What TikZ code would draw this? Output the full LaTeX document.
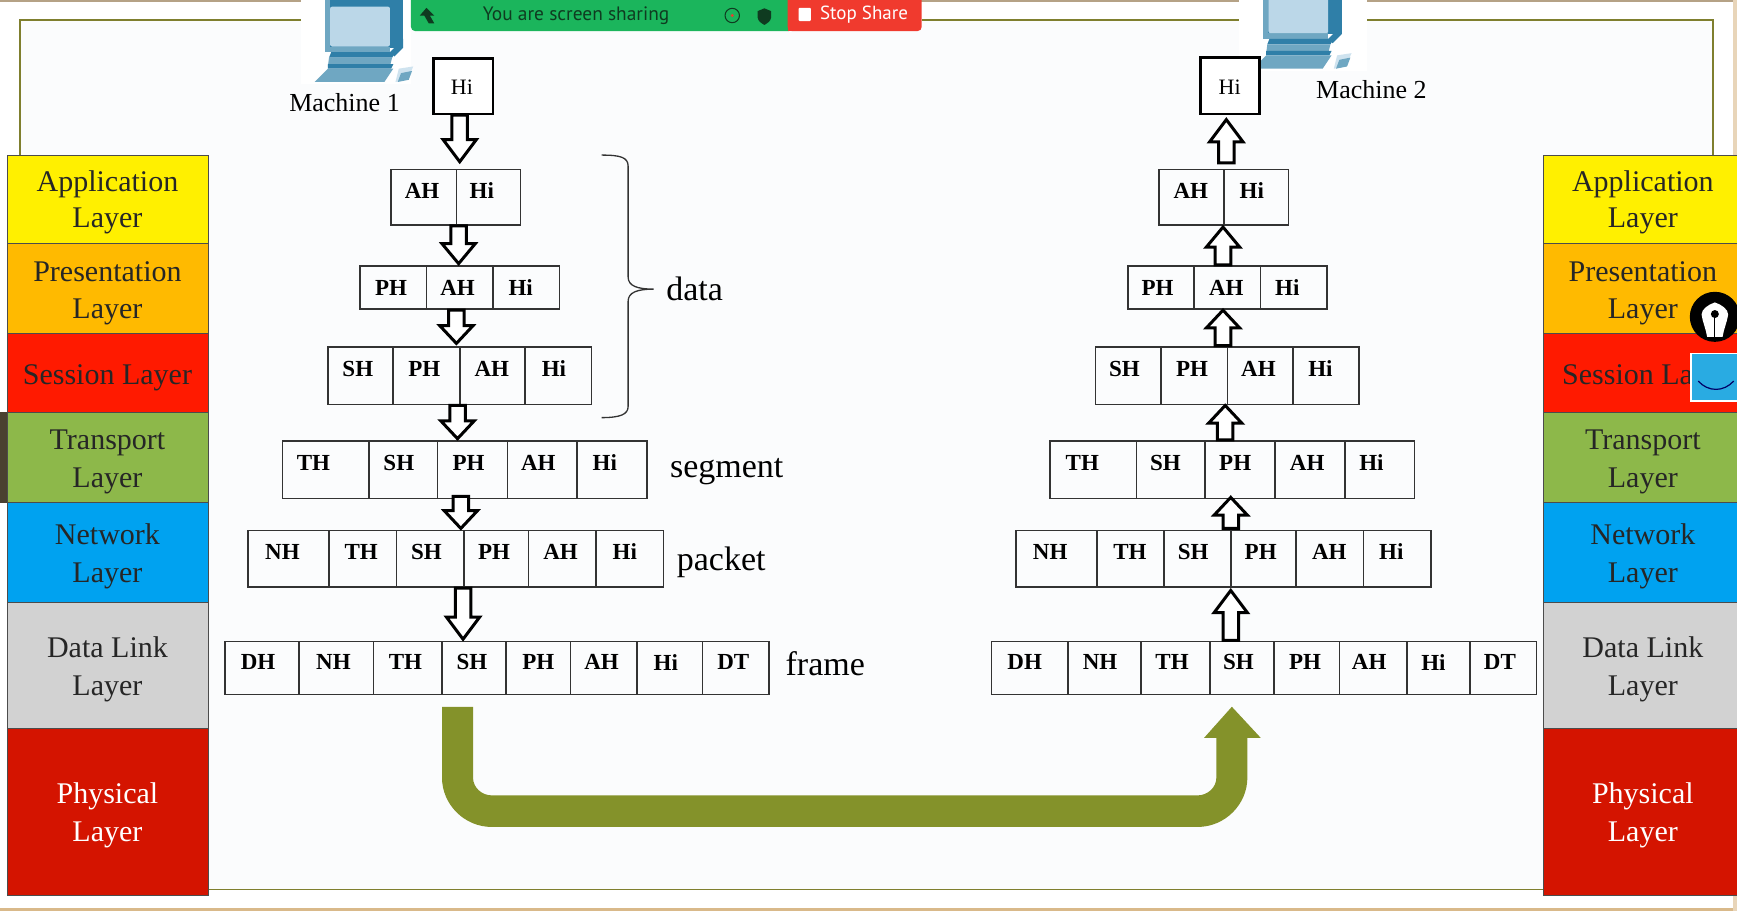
\documentclass[tikz,border=0pt]{standalone}
\usepackage{fontspec}
\setmainfont{Liberation Serif}
\newfontfamily\uifont{PT Sans}
\usetikzlibrary{calc}
\definecolor{pagebg}{HTML}{FBFCFD}
\definecolor{framecol}{HTML}{7F7F2E}
\definecolor{edgetan}{HTML}{D9B98A}
\definecolor{lyellow}{HTML}{FFF000}
\definecolor{lorange}{HTML}{FFBA00}
\definecolor{lred}{HTML}{FF1A00}
\definecolor{lgreen}{HTML}{8DB84A}
\definecolor{lblue}{HTML}{00A2F0}
\definecolor{lgray}{HTML}{D2D2D2}
\definecolor{ldred}{HTML}{D41400}
\definecolor{olive}{HTML}{84922A}
\definecolor{cellcol}{HTML}{333333}
\definecolor{pcdark}{HTML}{2F7FA8}
\definecolor{pcmid}{HTML}{6FA7C2}
\definecolor{pclight}{HTML}{BBD7E8}
\definecolor{zgreen}{HTML}{1BB55C}
\definecolor{zred}{HTML}{F03A2E}
\definecolor{zdark}{HTML}{0F3B20}
\definecolor{zblue}{HTML}{29ABE2}
\definecolor{strip}{HTML}{4A4030}
\tikzset{
  x=1.1078pt,y=-1.1078pt,
  framestyle/.style={draw=framecol,line width=1.8pt},
  layerbox/.style={draw=black!70,line width=1.1pt},
  layertext/.style={font=\fontsize{30}{30}\selectfont,text=black!85,inner sep=0pt,text height=21pt,text depth=6pt},
  celltext/.style={font=\fontsize{23}{23}\selectfont\bfseries,text=black,inner sep=0pt,yshift=-1pt},
  cellline/.style={draw=cellcol,line width=1.6pt},
  hibox/.style={draw=black,line width=2.8pt,fill=white},
  hitext/.style={font=\fontsize{22}{22}\selectfont,inner sep=0pt,yshift=-1pt},
  machinetext/.style={font=\fontsize{26}{26}\selectfont,inner sep=0pt},
  grouptext/.style={font=\fontsize{34}{34}\selectfont,inner sep=0pt,text height=24pt,text depth=7pt},
  hollow/.style={draw=black,line width=3pt,fill=white,miter limit=8},
}
\newcommand\cellrow[5]{%
  \foreach \a/\b/\c/\t in {#5}{%
    \draw[cellline] (\a,#2) rectangle (\b,#3);
    \node[celltext,name=#1-\t] at (\c,#4) {\t};
  }}
% name, x, from-y, to-y, direction sign (1 down, -1 up), head height
\newcommand\hollowarrow[6]{%
  \coordinate (#1-a) at (#2,#3);
  \coordinate (#1-b) at (#2,#4);
  \draw[hollow] ($(#1-a)+(-7,0)$) -- ($(#1-b)+(-7,{-#5*#6})$) -- ($(#1-b)+(-15,{-#5*#6})$)
     -- (#1-b) -- ($(#1-b)+(15,{-#5*#6})$) -- ($(#1-b)+(7,{-#5*#6})$) -- ($(#1-a)+(7,0)$) -- cycle;
}
\newcommand\computer[2]{%
  \begin{scope}[shift={(#1,#2)}]
    \fill[pcdark] (293,-2) rectangle (364,43);
    \fill[pcmid] (293,-2) rectangle (298,46);
    \fill[pcmid] (293,42) rectangle (352,47);
    \fill[pclight,rounded corners=2pt] (298,6) rectangle (352,42);
    \fill[pcdark] (352,47) -- (364,35) -- (364,43) -- (356,51) -- cycle;
    \fill[pcdark] (299,47) -- (357,47) -- (354,52) -- (297,52) -- cycle;
    \fill[pcmid] (297,52) -- (354,52) -- (352,60) -- (296,60) -- cycle;
    \fill[pcdark] (296,58) -- (355,58) -- (353,62) -- (296,62) -- cycle;
    \fill[pcmid] (296,62) -- (355,62) -- (347,74) -- (284,74) -- cycle;
    \fill[pclight!70!white] (360,62) -- (373,60) -- (368,72) -- (357,74) -- cycle;
    \fill[pcmid] (362,66) -- (372,64) -- (369,72) -- (359,74) -- cycle;
  \end{scope}}
\begin{document}
\begin{tikzpicture}
\useasboundingbox (0,0) rectangle (1568,822.3);
% page
\fill[white] (0,0) rectangle (1568,822.3);
\fill[pagebg] (18,18) rectangle (1546,803);
\fill[edgetan] (0,819.5) rectangle (1568,822.3);
\fill[edgetan!60!gray] (0,0) rectangle (1568,2);
\fill[edgetan!60!white] (1564.5,0) rectangle (1568,822.3);
\fill[strip] (0,372) rectangle (7,454);
% frame
\draw[framestyle] (18,140) -- (18,18) -- (272,18);
\draw[framestyle] (832,18) -- (1118,18);
\draw[framestyle] (1234,18) -- (1546,18) -- (1546,140);
\draw[framestyle] (188,803) -- (1393,803);
% layers
\foreach \xa/\xb/\side in {7/188/L,1393/1570/R}{
  \filldraw[layerbox,fill=lyellow] (\xa,140) rectangle (\xb,220);
  \filldraw[layerbox,fill=lorange] (\xa,220) rectangle (\xb,301);
  \filldraw[layerbox,fill=lred] (\xa,301) rectangle (\xb,372);
  \filldraw[layerbox,fill=lgreen] (\xa,372) rectangle (\xb,454);
  \filldraw[layerbox,fill=lblue] (\xa,454) rectangle (\xb,544);
  \filldraw[layerbox,fill=lgray] (\xa,544) rectangle (\xb,658);
  \filldraw[layerbox,fill=ldred] (\xa,658) rectangle (\xb,808);
}
\foreach \cx/\s in {97/L,1483/R}{
  \node[layertext,name=app1\s] at (\cx,166) {Application};
  \node[layertext,name=app2\s] at (\cx,199) {Layer};
  \node[layertext,name=pre1\s] at (\cx,247) {Presentation};
  \node[layertext,name=pre2\s] at (\cx,281) {Layer};
  \node[layertext,name=tra1\s] at (\cx,399) {Transport};
  \node[layertext,name=tra2\s] at (\cx,433) {Layer};
  \node[layertext,name=net1\s] at (\cx,485) {Network};
  \node[layertext,name=net2\s] at (\cx,519) {Layer};
  \node[layertext,name=dat1\s] at (\cx,587) {Data Link};
  \node[layertext,name=dat2\s] at (\cx,621) {Layer};
  \node[layertext,text=white,name=phy1\s] at (\cx,719) {Physical};
  \node[layertext,text=white,name=phy2\s] at (\cx,753) {Layer};
}
\node[layertext,name=sesL] at (97,340) {Session Layer};
\node[layertext,anchor=west,name=sesR] at (1410,340) {Session La};
% computers
\fill[white] (272,0) rectangle (371,76);
\fill[white] (1118,0) rectangle (1234,64);
\computer{0}{0}
\computer{847}{-12}
\node[machinetext,name=m1] at (311,93) {Machine 1};
\node[machinetext,name=m2] at (1238,81) {Machine 2};
% toolbar
\fill[zgreen,rounded corners=4pt] (371,-8) rectangle (716,28);
\fill[zred,rounded corners=4pt] (711,-8) rectangle (832,28);
\fill[zred] (711,-8) rectangle (720,28);
\fill[zdark] (385,7) -- (392,14) -- (388,14) -- (392,21) -- (387,21) -- (383,14) -- (379,14) -- cycle;
\node[font=\uifont\fontsize{19.4}{20}\selectfont,text=zdark,inner sep=0pt,name=share] at (520,14) {You are screen sharing};
\draw[zdark,line width=1pt] (661,14) circle (6.5);
\fill[zred] (661,14) circle (1.5);
\fill[zdark] (684,10) -- (690,7.5) -- (696,10) -- (696,16) .. controls (696,19) and (692,21.5) .. (690,22.5) .. controls (688,21.5) and (684,19) .. (684,16) -- cycle;
\fill[white,rounded corners=1pt] (721,7) rectangle (732,19);
\node[font=\uifont\fontsize{19}{20}\selectfont,text=white,inner sep=0pt,name=stop] at (780,13) {Stop Share};
% hi boxes
\draw[hibox] (391,53) rectangle (445,103);
\node[hitext,name=hi1t] at (417,78) {Hi};
\draw[hibox] (1084,52) rectangle (1137,103);
\node[hitext,name=hi2t] at (1110,78) {Hi};
% left stacks
\cellrow{la}{153}{203}{171}{353/412/381/AH,412/470/435/Hi}
\cellrow{lp}{240}{279}{259}{325/385/353/PH,385/445/413/AH,445/505/470/Hi}
\cellrow{ls}{313}{365}{332}{296/355/323/SH,355/415/383/PH,415/474/444/AH,474/534/500/Hi}
\cellrow{lt}{398}{450}{417}{255/333/283/TH,333/395/360/SH,395/458/423/PH,458/521/486/AH,521/584/546/Hi}
\cellrow{ln}{479}{530}{497}{224/297/255/NH,297/358/326/TH,358/419/385/SH,419/477/446/PH,477/538/506/AH,538/599/564/Hi}
\cellrow{ld}{579}{627}{597}{203/270/233/DH,270/337/301/NH,337/399/366/TH,399/457/426/SH,457/515/486/PH,515/575/543/AH,575/634/601/Hi,634/694/662/DT}
% right stacks
\cellrow{ra}{153}{203}{171}{1046/1105/1075/AH,1105/1163/1130/Hi}
\cellrow{rp}{240}{279}{259}{1018/1078/1045/PH,1078/1138/1107/AH,1138/1198/1162/Hi}
\cellrow{rs}{313}{365}{332}{989/1048/1015/SH,1048/1108/1076/PH,1108/1167/1136/AH,1167/1227/1192/Hi}
\cellrow{rt}{398}{450}{417}{948/1026/977/TH,1026/1088/1052/SH,1088/1151/1115/PH,1151/1214/1180/AH,1214/1277/1238/Hi}
\cellrow{rn}{479}{530}{497}{917/990/948/NH,990/1051/1020/TH,1051/1111/1077/SH,1111/1170/1138/PH,1170/1231/1200/AH,1231/1292/1256/Hi}
\cellrow{rd}{579}{627}{597}{895/964/925/DH,964/1030/993/NH,1030/1092/1058/TH,1092/1150/1118/SH,1150/1209/1178/PH,1209/1270/1236/AH,1270/1327/1294/Hi,1327/1387/1354/DT}
% arrows
\hollowarrow{d1}{415}{104}{146}{1}{20}
\hollowarrow{d2}{414}{204}{238}{1}{18}
\hollowarrow{d3}{412}{280}{310}{1}{16}
\hollowarrow{d4}{413}{366}{396}{1}{16}
\hollowarrow{d5}{416}{448}{477}{1}{16}
\hollowarrow{d6}{418}{531}{577}{1}{20}
\hollowarrow{u1}{1107}{147}{108}{-1}{20}
\hollowarrow{u2}{1104}{239}{205}{-1}{18}
\hollowarrow{u3}{1104}{312}{280}{-1}{16}
\hollowarrow{u4}{1106}{397}{366}{-1}{16}
\hollowarrow{u5}{1111}{477}{449}{-1}{16}
\hollowarrow{u6}{1111}{578}{533}{-1}{20}
% bracket
\draw[black!80,line width=1.3pt] (543,140) .. controls (560,140) and (567,142) .. (567,150) -- (567,250)
  .. controls (567,258) and (575,261) .. (590,261) .. controls (575,261) and (567,264) .. (567,272) -- (567,367)
  .. controls (567,374) and (560,377) .. (543,377);
\node[grouptext,name=gdata] at (627,264) {data};
\node[grouptext,name=gseg] at (656,423) {segment};
\node[grouptext,name=gpack] at (651,507) {packet};
\node[grouptext,name=gframe] at (745,602) {frame};
% big arrow
\fill[olive] (399,638) -- (427,638) -- (427,702) .. controls (427,711) and (435,718) .. (444,718)
  -- (1081,718) .. controls (1090,718) and (1098,711) .. (1098,702) -- (1098,666) -- (1087,666)
  -- (1112,638) -- (1138,666) -- (1126,666) -- (1126,702) .. controls (1126,726) and (1106,746.5) .. (1081,746.5)
  -- (444,746.5) .. controls (419,746.5) and (399,726) .. (399,702) -- cycle;
% overlays
\fill[black] (1548,286) circle (22.6);
\fill[white] (1548,273) .. controls (1554,275) and (1560,279) .. (1560,284) .. controls (1559,291) and (1556,297) .. (1555,304)
  -- (1541,304) .. controls (1540,297) and (1537,291) .. (1536,284) .. controls (1536,279) and (1542,275) .. (1548,273) -- cycle;
\fill[black] (1548,283.5) circle (3.6);
\draw[black,line width=1.2pt] (1548,283.5) -- (1548,304);
\filldraw[draw=white,line width=1.5pt,fill=zblue] (1526.5,319) rectangle (1569,362);
\draw[black!60!blue,line width=1.2pt] (1533,344) .. controls (1542,354) and (1556,354) .. (1565,344);
\end{tikzpicture}
\end{document}
